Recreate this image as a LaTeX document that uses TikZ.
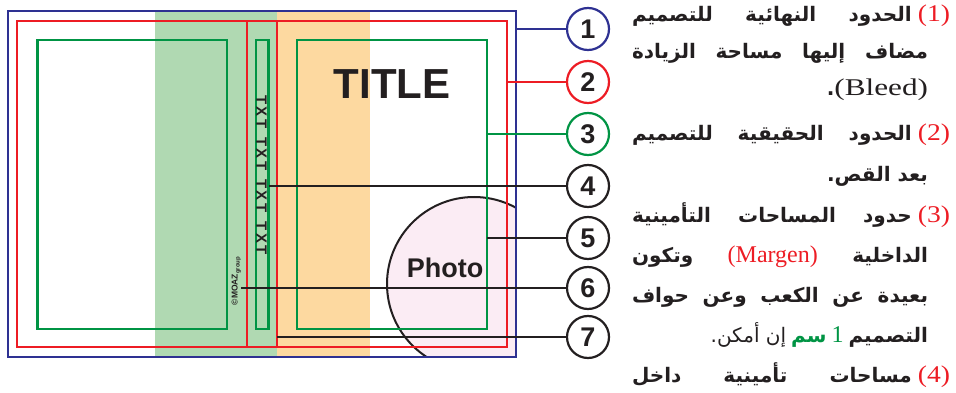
\documentclass[tikz,border=0pt]{standalone}
\usepackage{fontspec}
\usepackage{graphicx}
\setmainfont{Liberation Serif}
\newfontfamily\sansf{Liberation Sans}
\newfontfamily\arabicfont[Script=Arabic]{DejaVu Sans}
\TeXXeTstate=1
\definecolor{dblue}{RGB}{46,49,146}
\definecolor{dred}{RGB}{237,28,36}
\definecolor{dgreen}{RGB}{0,148,68}
\definecolor{bandgreen}{RGB}{176,217,178}
\definecolor{bandorange}{RGB}{253,217,160}
\definecolor{photopink}{RGB}{251,236,244}
\definecolor{ink}{RGB}{35,31,32}
\newcommand\ar{\arabicfont\bfseries\fontsize{20}{22}\selectfont}
% Latin piece (kept outside the right-to-left runs)
\newcommand\lat[3][1]{\hbox{\color{#2}\rmfamily\mdseries\fontsize{24}{24}\selectfont\scalebox{#1}[1]{#3}}}
\newcommand\arc[2]{\hbox{\color{#1}#2}}
\newcommand\txl[1]{\makebox[12pt]{#1}}
\tikzset{
 rectbox/.style={rectangle, inner sep=0pt, outer sep=0pt, line width=2.4pt},
 num/.style={circle, minimum size=42pt, inner sep=0pt, line width=2.2pt, fill=white,
   font=\sansf\bfseries\fontsize{27}{27}\selectfont, text=ink},
 conn/.style={line width=2pt},
 txt/.style={inner sep=0pt, outer sep=0pt, text=ink},
}
\begin{document}
\begin{tikzpicture}[x=1pt,y=-1pt]
\useasboundingbox (0,0) rectangle (956,393);
% bands
\fill[bandgreen] (155,11) rectangle (277,357);
\fill[bandorange] (277,11) rectangle (370,357);
% photo
\begin{scope}
\clip (8,11) rectangle (516,357);
\draw[fill=photopink, draw=ink, line width=2pt] (474,284) circle[radius=87pt];
\end{scope}
% frames
\node[rectbox, draw=dblue, minimum width=508pt, minimum height=346pt, anchor=north west] (blue) at (8,11) {};
\node[rectbox, draw=dred, minimum width=490pt, minimum height=326pt, anchor=north west] (red) at (17,21) {};
\draw[dred, line width=2.4pt] (247,21) -- (247,347);
\draw[dred, line width=2.4pt] (277,21) -- (277,347);
\coordinate (r7) at (277,337);
\node[rectbox, draw=dgreen, minimum width=189.5pt, minimum height=289pt, anchor=north west] (gl) at (37.5,40) {};
\node[rectbox, draw=dgreen, minimum width=12.5pt, minimum height=289pt, anchor=north west] (spine) at (256,40) {};
\node[rectbox, draw=dgreen, minimum width=190pt, minimum height=289pt, anchor=north west] (gr) at (297,40) {};
% texts in the layout
\node[txt, font=\sansf\bfseries\fontsize{42}{42}\selectfont] (title) at (392,84) {TITLE};
\node[txt, font=\sansf\bfseries\fontsize{27}{27}\selectfont] (photo) at (445,268) {Photo};
\node[txt, rotate=-90, font=\sansf\bfseries\fontsize{15}{15}\selectfont] (tx) at (261.5,175)
  {\txl{T}\txl{X}\txl{T}\hspace{6pt}\txl{T}\txl{X}\txl{T}\hspace{6pt}\txl{T}\txl{X}\txl{T}\hspace{6pt}\txl{T}\txl{X}\txl{T}};
\node[txt, rotate=90, anchor=south, font=\sansf\bfseries\fontsize{8.5}{9}\selectfont] (moaz) at (241,281)
  {©MOAZ\raisebox{-2pt}{\fontsize{6}{6}\selectfont group}};
% numbered circles
\node[num, draw=dblue] (c1) at (588,29) {1};
\node[num, draw=dred] (c2) at (588,82) {2};
\node[num, draw=dgreen] (c3) at (588,134) {3};
\node[num, draw=ink] (c4) at (588,186) {4};
\node[num, draw=ink] (c5) at (588,238) {5};
\node[num, draw=ink] (c6) at (588,288) {6};
\node[num, draw=ink] (c7) at (588,337) {7};
% connectors
\draw[conn, dblue] (c1 -| blue.east) -- (c1);
\draw[conn, dred] (c2 -| red.east) -- (c2);
\draw[conn, dgreen] (c3 -| gr.east) -- (c3);
\draw[conn, ink] (c4 -| spine.east) -- (c4);
\draw[conn, ink] (c5 -| gr.east) -- (c5);
\draw[conn, ink] (c6 -| moaz.south) -- (c6);
\draw[conn, ink] (c7 -| r7) -- (c7);
% right-hand text (Arabic runs in \beginR..\endR, Latin pieces outside them)
\node[txt, anchor=base west] (t1) at (632,22) {\ar\hbox to 318pt{\beginR الحدود\hfill النهائية\hfill للتصميم\endR\hspace{6pt}\lat[1.15]{dred}{(1)}}};
\node[txt, anchor=base west] (t2) at (632,59) {\ar\hbox to 296pt{\beginR مضاف\hfill إليها\hfill مساحة\hfill الزيادة\endR}};
\node[txt, anchor=base east] (t3) at (928,96) {\ar\hbox{.\lat[1.3]{ink}{(Bleed)}}};
\node[txt, anchor=base west] (t4) at (632,141) {\ar\hbox to 318pt{\beginR الحدود\hfill الحقيقية\hfill للتصميم\endR\hspace{6pt}\lat[1.15]{dred}{(2)}}};
\node[txt, anchor=base east] (t5) at (928,182) {\ar\beginR بعد القص.\endR};
\node[txt, anchor=base west] (t6) at (632,222) {\ar\hbox to 318pt{\beginR حدود\hfill المساحات\hfill التأمينية\endR\hspace{6pt}\lat[1.15]{dred}{(3)}}};
\node[txt, anchor=base west] (t7) at (632,262) {\ar\hbox to 296pt{\beginR وتكون\endR\hfill\lat{dred}{(Margen)}\hfill\beginR الداخلية\endR}};
\node[txt, anchor=base west] (t8) at (632,302) {\ar\hbox to 296pt{\beginR بعيدة\hfill عن\hfill الكعب\hfill وعن\hfill حواف\endR}};
\node[txt, anchor=base east] (t9) at (928,342) {\ar\hbox{{\mdseries\beginR إن أمكن.\endR}\hspace{5pt}\arc{dgreen}{سم}\hspace{5pt}\lat{dgreen}{1}\hspace{5pt}\beginR التصميم\endR}};
\node[txt, anchor=base west] (t10) at (632,382) {\ar\hbox to 318pt{\beginR مساحات\hfill تأمينية\hfill داخل\endR\hspace{6pt}\lat[1.15]{dred}{(4)}}};
\end{tikzpicture}
\end{document}
